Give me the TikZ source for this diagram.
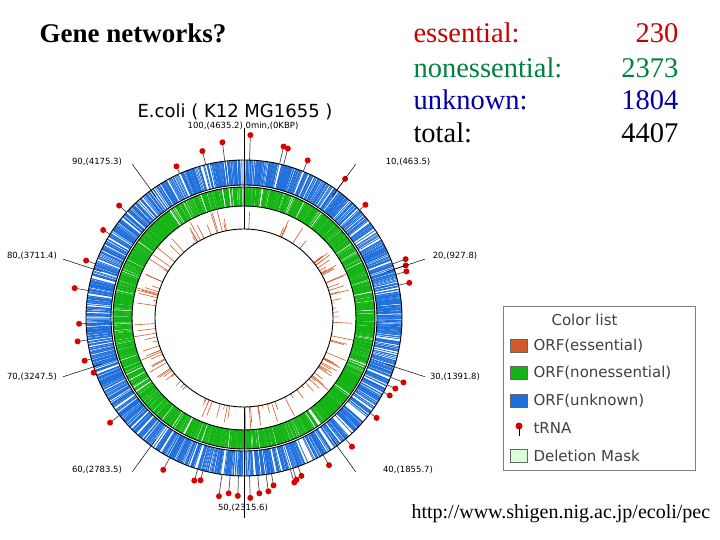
\documentclass[tikz,border=0pt]{standalone}
\usepackage{fontspec}
\setmainfont{Liberation Serif}
\setsansfont{DejaVu Sans}
\begin{document}
\begin{tikzpicture}[x=1pt,y=1pt,
  tick/.style={font=\sffamily\fontsize{8.5}{9}\selectfont},
  head/.style={font=\fontsize{28.5}{30}\selectfont,anchor=base west},
  num/.style={font=\fontsize{28.5}{30}\selectfont,anchor=base east},
  leg/.style={font=\sffamily\fontsize{15}{16}\selectfont,anchor=west,text=black!75},
  sw/.style={draw=black!60,minimum width=17pt,minimum height=13pt,inner sep=0pt}]
\useasboundingbox (0,0) rectangle (720,540);
\definecolor{ess}{RGB}{200,0,0}
\definecolor{non}{RGB}{0,130,60}
\definecolor{unk}{RGB}{0,0,170}
\definecolor{ob}{RGB}{30,110,220}
\definecolor{og}{RGB}{20,180,20}
\definecolor{oe}{RGB}{210,90,40}
% header texts
\node[head,font=\bfseries\fontsize{27}{30}\selectfont] (t) at (36,497) {Gene networks?};
\node[head,text=ess] (e1) at (410,497) {essential:};
\node[num,text=ess] (e2) at (682,497) {230};
\node[head,text=non] (n1) at (410,462) {nonessential:};
\node[num,text=non] (n2) at (682,462) {2373};
\node[head,text=unk] (u1) at (410,430) {unknown:};
\node[num,text=unk] (u2) at (682,430) {1804};
\node[head] (to1) at (410,397) {total:};
\node[num] (to2) at (682,397) {4407};
\node[font=\sffamily\fontsize{18}{20}\selectfont] (title) at (235,428) {E.coli ( K12 MG1655 )};
% circle
\begin{scope}[shift={(244,222)}]
\pgfmathsetseed{11}
\foreach \i in {1,...,1400}{\pgfmathsetmacro\a{360*rnd}\draw[ob,line width=0.8pt] (\a:133) -- (\a:158);}
\pgfmathsetseed{5}
\foreach \i in {1,...,2000}{\pgfmathsetmacro\a{360*rnd}\draw[og,line width=0.8pt] (\a:112) -- (\a:131);}
\pgfmathsetseed{3}
\foreach \i in {1,...,130}{\pgfmathsetmacro\a{360*rnd}\pgfmathsetmacro\r{89+23*rnd}\draw[oe,line width=0.6pt] (\a:89) -- (\a:\r);}
\foreach \r in {158,133,131,112,89}{\draw[line width=0.9pt] (0,0) circle (\r);}
% tRNA
\foreach \d/\r in {2/183,-7/177,-14/172,-24/166,13/176,14.5/175,22/170,36/172,47/166,70/172,72/170,74/169,78/169,112/172,115/167,118/165,127/166,140/168,150/170,160/168,162/170,163/172,170/170,172/175,175/176,178/180,182/178,185/176,188/180,195/168,197/170,208/172,232/170,250/160,255/165,262/168,268/165,280/172,290/168,302/166,312/168}{
  \draw[black!70,line width=0.7pt] (90-\d:158) -- (90-\d:\r);
  \fill[red!85!black] (90-\d:\r) circle (3pt);}
% ticks
\foreach \k in {0,...,9}{\draw[line width=0.5pt] (90-36*\k:150) -- (90-36*\k:190);}
\draw (90:89) -- (90:158); \draw (-90:89) -- (-90:200);
\end{scope}
\node[tick] (l0) at (243,414) {100,(4635.2) 0min,(0KBP)};
\node[tick] (l1) at (408,378) {10,(463.5)};
\node[tick] (l2) at (455,284) {20,(927.8)};
\node[tick] (l3) at (455,163) {30,(1391.8)};
\node[tick] (l4) at (408,70) {40,(1855.7)};
\node[tick] (l5) at (243,32) {50,(2315.6)};
\node[tick] (l6) at (97,70) {60,(2783.5)};
\node[tick] (l7) at (32,163) {70,(3247.5)};
\node[tick] (l8) at (32,284) {80,(3711.4)};
\node[tick] (l9) at (97,378) {90,(4175.3)};
% legend
\node[draw=black!50,fill=white,minimum width=192pt,minimum height=164pt,anchor=south west] (lg) at (503,70) {};
\node[leg] (lt) at (548,220) {Color list};
\node[sw,fill=oe] (s1) at (519,194) {}; \node[leg] (t1) at (530,194) {ORF(essential)};
\node[sw,fill=og] (s2) at (519,167) {}; \node[leg] (t2) at (530,167) {ORF(nonessential)};
\node[sw,fill=ob] (s3) at (519,139) {}; \node[leg] (t3) at (530,139) {ORF(unknown)};
\coordinate (s4) at (519,104);
\fill[red!85!black] (519,114) circle (3.5pt) coordinate (s4b);
\draw (s4b) -- (s4);
\node[leg] (t4) at (530,112) {tRNA};
\node[sw,fill=green!15] (s5) at (519,84) {}; \node[leg] (t5) at (530,84) {Deletion Mask};
\node[font=\fontsize{20}{21}\selectfont,anchor=base west] (url) at (408,21) {http://www.shigen.nig.ac.jp/ecoli/pec};
\end{tikzpicture}
\end{document}
